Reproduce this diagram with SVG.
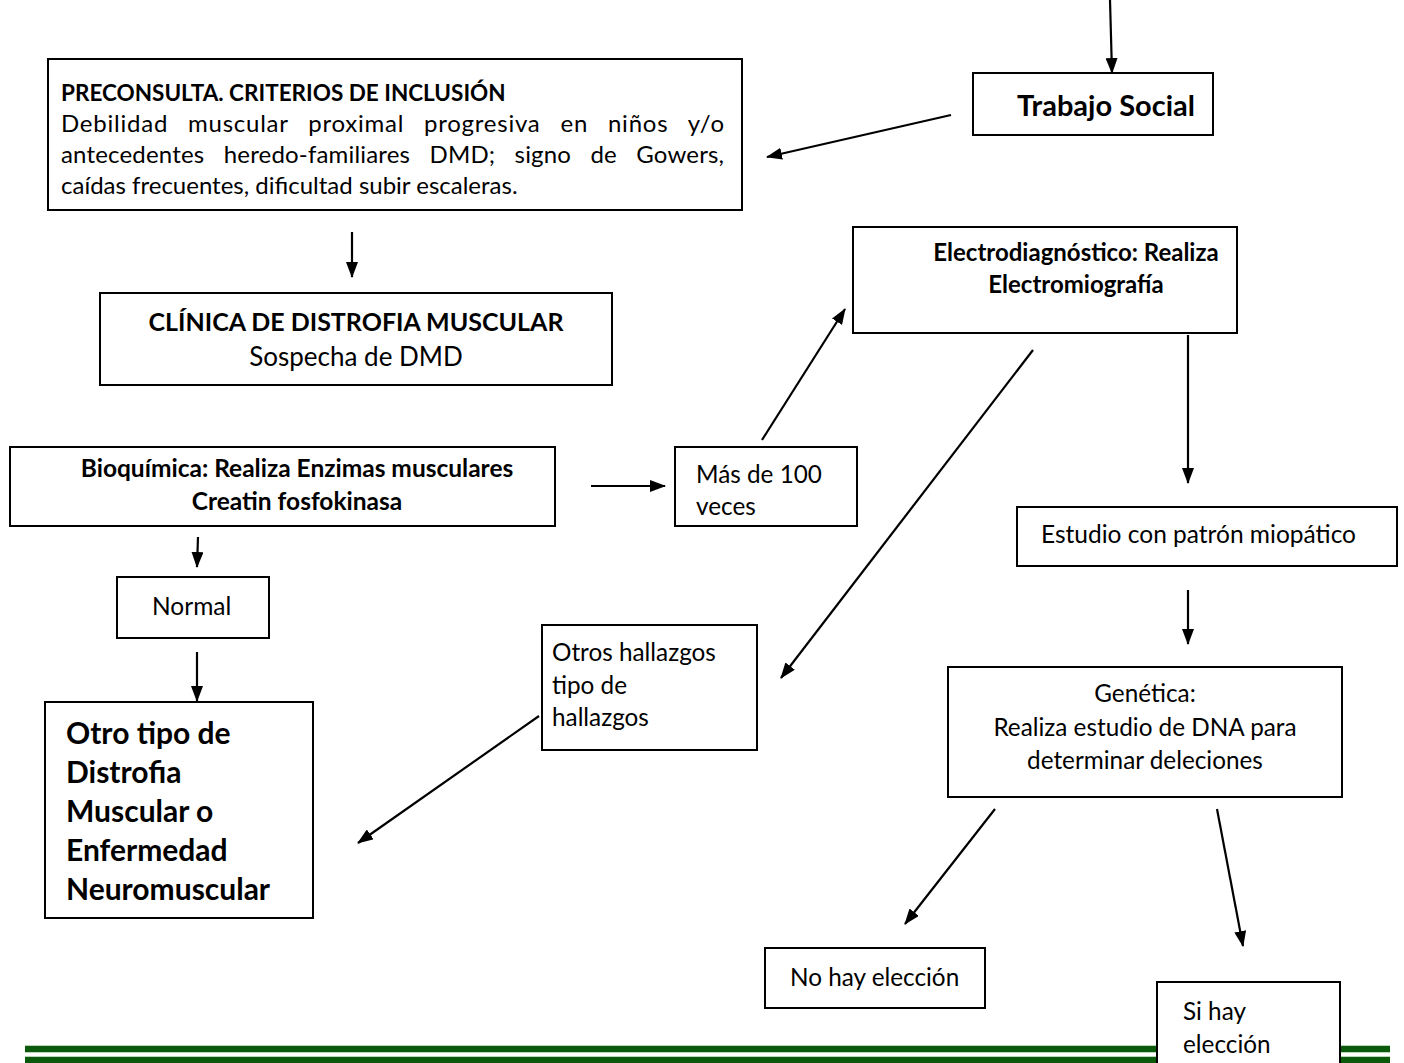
<svg xmlns="http://www.w3.org/2000/svg" width="1404" height="1063" viewBox="0 0 1404 1063">
<defs>
<marker id="ah" markerWidth="16" markerHeight="12" refX="15" refY="6" orient="auto" markerUnits="userSpaceOnUse">
<path d="M0,0 L16,6 L0,12 Z" fill="#000"/>
</marker>
<style>
.box{fill:#fff;stroke:#000;stroke-width:2}
.t{font-family:Lato,"Liberation Sans",sans-serif;fill:#000}
.b{font-weight:bold}
.c{text-anchor:middle}
.con line{stroke:#000;stroke-width:2.2;marker-end:url(#ah)}
</style>
</defs>
<rect width="1404" height="1063" fill="#fff"/>
<g id="footer">
<rect x="25" y="1045" width="1365" height="8" fill="#b9d8b9"/>
<rect x="25" y="1046" width="1365" height="6" fill="#0b5a0b"/>
<rect x="25" y="1056" width="1365" height="8" fill="#b9d8b9"/>
<rect x="25" y="1057" width="1365" height="6" fill="#0b5a0b"/>
</g>
<g class="con" id="connectors">
<line x1="1110" y1="0" x2="1112" y2="73"/>
<line x1="951" y1="115" x2="767" y2="157"/>
<line x1="352" y1="232" x2="352" y2="277"/>
<line x1="762" y1="440" x2="845" y2="309"/>
<line x1="591" y1="486" x2="665" y2="486"/>
<line x1="1188" y1="335" x2="1188" y2="483"/>
<line x1="1033" y1="350" x2="781" y2="678"/>
<line x1="1188" y1="590" x2="1188" y2="644"/>
<line x1="198" y1="537" x2="197" y2="567"/>
<line x1="197" y1="652" x2="197" y2="701"/>
<line x1="539" y1="716" x2="358" y2="843"/>
<line x1="995" y1="809" x2="905" y2="924"/>
<line x1="1217" y1="809" x2="1243" y2="946"/>
</g>
<g id="preconsulta">
<rect class="box" x="48" y="59" width="694" height="151"/>
<text class="t b" x="61" y="101" font-size="22.5">PRECONSULTA. CRITERIOS DE INCLUSIÓN</text>
<text class="t" x="61" y="132" font-size="24" word-spacing="13" textLength="663" lengthAdjust="spacing">Debilidad muscular proximal progresiva en niños y/o</text>
<text class="t" x="61" y="163" font-size="24" word-spacing="13" textLength="663" lengthAdjust="spacing">antecedentes heredo-familiares DMD; signo de Gowers,</text>
<text class="t" x="61" y="194" font-size="24">caídas frecuentes, dificultad subir escaleras.</text>
</g>
<g id="trabajo">
<rect class="box" x="973" y="73" width="240" height="62"/>
<text class="t b c" x="1106" y="116" font-size="29">Trabajo Social</text>
</g>
<g id="clinica">
<rect class="box" x="100" y="293" width="512" height="92"/>
<text class="t b c" x="356" y="331" font-size="25">CLÍNICA DE DISTROFIA MUSCULAR</text>
<text class="t c" x="356" y="366" font-size="26">Sospecha de DMD</text>
</g>
<g id="electro">
<rect class="box" x="853" y="227" width="384" height="106"/>
<text class="t b c" x="1076" y="261" font-size="24">Electrodiagnóstico: Realiza</text>
<text class="t b c" x="1076" y="293" font-size="24">Electromiografía</text>
</g>
<g id="bioquimica">
<rect class="box" x="10" y="447" width="545" height="79"/>
<text class="t b c" x="297" y="477" font-size="24.5">Bioquímica: Realiza Enzimas musculares</text>
<text class="t b c" x="297" y="510" font-size="24.5">Creatin fosfokinasa</text>
</g>
<g id="mas100">
<rect class="box" x="675" y="447" width="182" height="79"/>
<text class="t" x="696" y="483" font-size="24.3">Más de 100</text>
<text class="t" x="696" y="515" font-size="24.3">veces</text>
</g>
<g id="estudio">
<rect class="box" x="1017" y="507" width="380" height="59"/>
<text class="t" x="1041" y="543" font-size="24.5">Estudio con patrón miopático</text>
</g>
<g id="normal">
<rect class="box" x="117" y="577" width="152" height="61"/>
<text class="t" x="152" y="615" font-size="24.5">Normal</text>
</g>
<g id="otros">
<rect class="box" x="542" y="625" width="215" height="125"/>
<text class="t" x="552" y="661" font-size="24.3">Otros hallazgos</text>
<text class="t" x="552" y="694" font-size="24.3">tipo de</text>
<text class="t" x="552" y="726" font-size="24.3">hallazgos</text>
</g>
<g id="otro-tipo">
<rect class="box" x="45" y="702" width="268" height="216"/>
<text class="t b" x="66" y="744" font-size="30">Otro tipo de</text>
<text class="t b" x="66" y="783" font-size="30">Distrofia</text>
<text class="t b" x="66" y="822" font-size="30">Muscular o</text>
<text class="t b" x="66" y="861" font-size="30">Enfermedad</text>
<text class="t b" x="66" y="900" font-size="30">Neuromuscular</text>
</g>
<g id="genetica">
<rect class="box" x="948" y="667" width="394" height="130"/>
<text class="t c" x="1145" y="702" font-size="24.3">Genética:</text>
<text class="t c" x="1145" y="736" font-size="24.3">Realiza estudio de DNA para</text>
<text class="t c" x="1145" y="769" font-size="24.3">determinar deleciones</text>
</g>
<g id="no-hay">
<rect class="box" x="765" y="948" width="220" height="60"/>
<text class="t" x="790" y="986" font-size="24.3">No hay elección</text>
</g>
<g id="si-hay">
<rect class="box" x="1157" y="982" width="183" height="90"/>
<text class="t" x="1183" y="1020" font-size="24.3">Si hay</text>
<text class="t" x="1183" y="1053" font-size="24.3">elección</text>
</g>
</svg>
